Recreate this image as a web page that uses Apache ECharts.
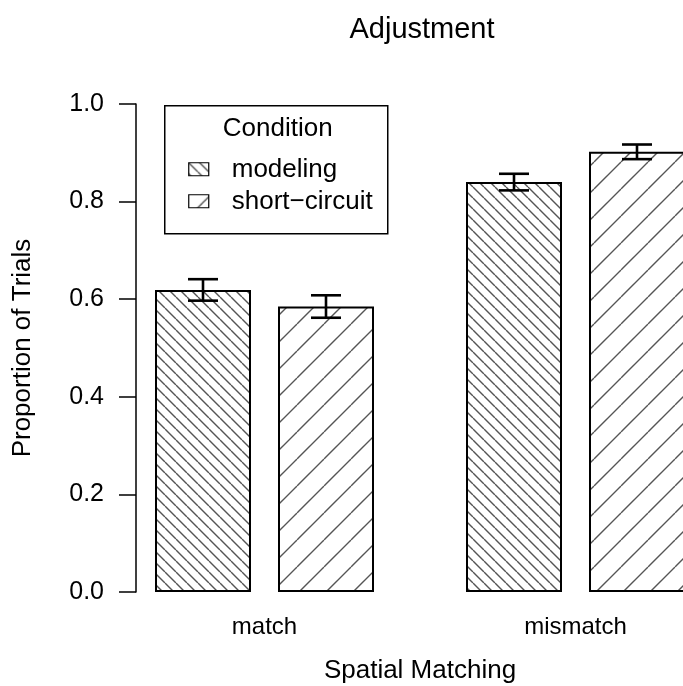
<!DOCTYPE html>
<html>
<head>
<meta charset="utf-8">
<script src="https://cdn.jsdelivr.net/npm/echarts@6/dist/echarts.min.js"></script>
<style>
  html, body { margin: 0; padding: 0; background: #fff; overflow: hidden; }
  /* the plot runs past the right edge of the page, so the canvas is wider than the view */
  #chart { width: 731px; height: 686px; }
</style>
</head>
<body>
<div id="chart"></div>
<script>
// Proportion of trials by spatial matching and condition
const categories = ['match', 'mismatch'];
const seriesNames = ['modeling', 'short\u2212circuit'];
const modelingValues = [0.619, 0.840];
const modelingErrors = [0.022, 0.017];
const shortCircuitValues = [0.585, 0.902];
const shortCircuitErrors = [0.023, 0.015];
const yTicks = [0, 0.2, 0.4, 0.6, 0.8, 1.0];

const FONT = 'Liberation Sans, Arial, Helvetica, sans-serif';
const BAR_W = 96;
const BAR_GAP = 27;

// Diagonal hatch tile; dir 1 = "\\", dir -1 = "/"
function hatch(period, dir) {
  const c = document.createElement('canvas');
  c.width = period; c.height = period;
  const g = c.getContext('2d');
  g.fillStyle = '#fff';
  g.fillRect(0, 0, period, period);
  g.strokeStyle = '#555';
  g.lineWidth = 1.4;
  g.beginPath();
  for (let k = -period; k <= period; k += period) {
    if (dir > 0) { g.moveTo(k, 0); g.lineTo(k + period, period); }
    else { g.moveTo(k + period, 0); g.lineTo(k, period); }
  }
  g.stroke();
  return { image: c, repeat: 'repeat' };
}
const fillModeling = hatch(11, 1);
const fillShort = hatch(27, -1);

const chart = echarts.init(document.getElementById('chart'), null, { renderer: 'canvas' });

function errorBars(values, errors, side) {
  return {
    type: 'custom',
    z: 5,
    data: values.map((v, i) => [i, v, errors[i]]),
    renderItem: function (params, api) {
      const i = api.value(0), v = api.value(1), e = api.value(2);
      const c = api.coord([i, v]);
      const x = c[0] + side * (BAR_W + BAR_GAP) / 2;
      const yTop = api.coord([i, v + e])[1];
      const yBot = api.coord([i, v - e])[1];
      const hw = 15;
      const st = { stroke: '#000', lineWidth: 2.6 };
      return {
        type: 'group',
        children: [
          { type: 'line', shape: { x1: x, y1: yTop, x2: x, y2: yBot }, style: st },
          { type: 'line', shape: { x1: x - hw, y1: yTop, x2: x + hw, y2: yTop }, style: st },
          { type: 'line', shape: { x1: x - hw, y1: yBot, x2: x + hw, y2: yBot }, style: st }
        ]
      };
    }
  };
}

const option = {
  animation: false,
  backgroundColor: '#fff',
  title: {
    text: 'Adjustment',
    left: 417, top: 10, textAlign: 'center',
    textStyle: { fontFamily: FONT, fontSize: 29, fontWeight: 'normal', color: '#000' }
  },
  grid: { left: 109, right: 0, top: 104, bottom: 94, containLabel: false, outerBoundsMode: 'none' },
  xAxis: {
    type: 'category', data: categories,
    axisLine: { show: false }, axisTick: { show: false },
    axisLabel: { margin: 23, fontFamily: FONT, fontSize: 24, color: '#000' },
    name: 'Spatial Matching', nameLocation: 'middle', nameGap: 66,
    nameTextStyle: { fontFamily: FONT, fontSize: 26, color: '#000' }
  },
  yAxis: {
    type: 'value', min: 0, max: 1, interval: 0.2, offset: -27,
    axisLine: { show: true, lineStyle: { color: '#000', width: 1.5 } },
    axisTick: { show: true, length: 17, lineStyle: { color: '#000', width: 1.5 } },
    splitLine: { show: false },
    axisLabel: {
      margin: 32, fontFamily: FONT, fontSize: 25, color: '#000',
      formatter: v => (yTicks.includes(v) ? v.toFixed(1) : '')
    },
    name: 'Proportion of Trials', nameLocation: 'middle', nameGap: 100, nameRotate: 90,
    nameTextStyle: { fontFamily: FONT, fontSize: 26, color: '#000' }
  },
  series: [
    {
      name: seriesNames[0], type: 'bar',
      data: modelingValues, barWidth: BAR_W, barGap: (BAR_GAP / BAR_W * 100) + '%',
      itemStyle: { color: fillModeling, borderColor: '#000', borderWidth: 2 }
    },
    {
      name: seriesNames[1], type: 'bar',
      data: shortCircuitValues, barWidth: BAR_W,
      itemStyle: { color: fillShort, borderColor: '#000', borderWidth: 2 }
    },
    errorBars(modelingValues, modelingErrors, -1),
    errorBars(shortCircuitValues, shortCircuitErrors, 1)
  ],
  graphic: [
    {
      type: 'group', left: 164, top: 105,
      children: [
        { type: 'rect', shape: { x: 0, y: 0, width: 223, height: 128 },
          style: { fill: '#fff', stroke: '#000', lineWidth: 1.5 } },
        { type: 'text', x: 113, y: 23,
          style: { text: 'Condition', fontFamily: FONT, fontSize: 26, fill: '#000',
                   align: 'center', verticalAlign: 'middle' } },
        { type: 'rect', shape: { x: 24, y: 57, width: 20, height: 13 },
          style: { fill: fillModeling, stroke: '#000', lineWidth: 1.2 } },
        { type: 'text', x: 67, y: 64,
          style: { text: seriesNames[0], fontFamily: FONT, fontSize: 26, fill: '#000',
                   align: 'left', verticalAlign: 'middle' } },
        { type: 'rect', shape: { x: 24, y: 89, width: 20, height: 13 },
          style: { fill: fillShort, stroke: '#000', lineWidth: 1.2 } },
        { type: 'text', x: 67, y: 96,
          style: { text: seriesNames[1], fontFamily: FONT, fontSize: 26, fill: '#000',
                   align: 'left', verticalAlign: 'middle' } }
      ]
    }
  ]
};

chart.setOption(option);
</script>
</body>
</html>
